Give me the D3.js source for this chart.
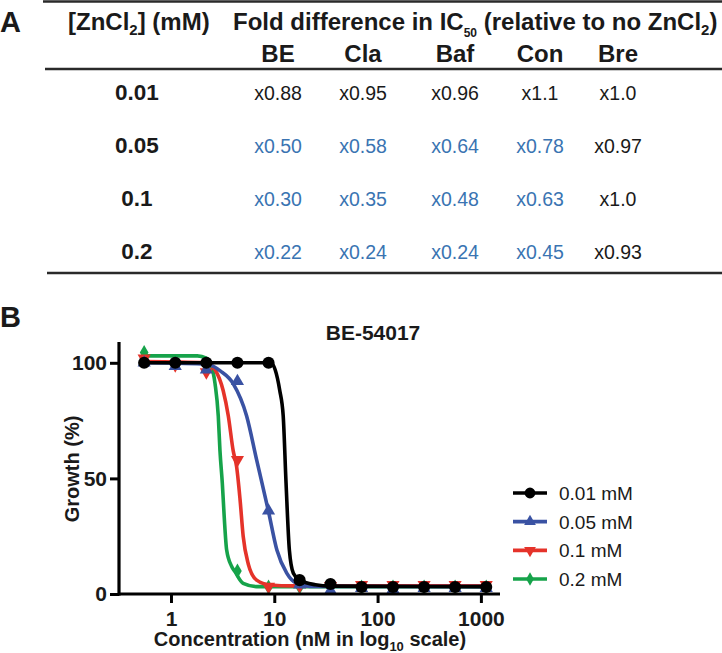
<!DOCTYPE html>
<html>
<head>
<meta charset="utf-8">
<script src="https://cdn.jsdelivr.net/npm/d3@7/dist/d3.min.js"></script>
<style>
  html, body { margin: 0; padding: 0; background: #fff; }
  svg { display: block; font-family: "Liberation Sans", Arial, sans-serif; }
</style>
</head>
<body>
<svg id="fig" width="722" height="653"></svg>
<script>
// ---------- Panel A data ----------
const zincLevels = ["0.01", "0.05", "0.1", "0.2"];
const compounds = ["BE", "Cla", "Baf", "Con", "Bre"];
const foldBE  = ["x0.88", "x0.50", "x0.30", "x0.22"];
const foldCla = ["x0.95", "x0.58", "x0.35", "x0.24"];
const foldBaf = ["x0.96", "x0.64", "x0.48", "x0.24"];
const foldCon = ["x1.1",  "x0.78", "x0.63", "x0.45"];
const foldBre = ["x1.0",  "x0.97", "x1.0",  "x0.93"];
// significant change (shown in blue)
const sigBE  = [false, true, true, true];
const sigCla = [false, true, true, true];
const sigBaf = [false, true, true, true];
const sigCon = [false, true, true, true];
const sigBre = [false, false, false, false];

// ---------- Panel B data ----------
const chartTitle = "BE-54017";
const seriesNames = ["0.01 mM", "0.05 mM", "0.1 mM", "0.2 mM"];
const concNM = [0.55, 1.1, 2.2, 4.4, 8.8, 17.6, 35, 70, 141, 282, 563, 1126];
const growth001 = [100, 100, 100, 100, 100, 6, 4.3, 3, 3, 3, 3, 3];
const growth005 = [100, 98.5, 97, 92, 36, 4, 1.5, 2.5, 2, 2.5, 2.5, 2.5];
const growth01  = [102, 99, 96, 58, 3.2, 3.5, 3.5, 4, 4, 4, 4, 4];
const growth02  = [104.5, 100, 99, 10, 3, 3, 3, 3, 3, 3, 3, 3];
// fitted curves as [concentration nM, growth %]
const fit001 = [[0.55,100],[8.8,100],[9.6,99.5],[10.2,97],[11.3,88],[12.2,77],[13.0,48],[14.0,19],[15.3,9],[17.6,6],[25,4],[35,3.4],[1126,3.2]];
const fit005 = [[0.55,100],[2.0,99.5],[2.4,99],[3.0,96.5],[4.0,91],[5.4,77],[6.75,58],[8.76,36],[10.6,19],[13.2,9],[16.4,4.6],[22,3.3],[1126,3.2]];
const fit01  = [[0.55,100.5],[2.2,100],[2.67,97],[3.2,88],[3.59,77],[4.0,62],[4.32,55],[4.66,41],[5.0,25],[5.6,13],[6.75,6],[9.1,3.9],[15,3.5],[1126,3.5]];
const fit02  = [[0.55,103],[1.8,103],[2.2,102],[2.45,99],[2.67,91],[2.87,77],[2.98,62],[3.14,48],[3.28,33],[3.46,19],[3.86,12],[4.16,9.7],[5.0,4.6],[6.75,3.2],[1126,3.2]];
const xTicks = [1, 10, 100, 1000];
const yTicks = [0, 50, 100];

// ---------- drawing ----------
const svg = d3.select("#fig");
svg.append("rect").attr("width", 722).attr("height", 653).attr("fill", "#fff");

const BOLD = "bold";
const tableBlue = "#3a74b2";
const ink = "#1a1a1a";

// Panel letters
svg.append("text").attr("x", 0).attr("y", 32).attr("font-size", 29).attr("font-weight", BOLD).attr("fill", ink).text("A");
svg.append("text").attr("x", 0).attr("y", 327).attr("font-size", 29).attr("font-weight", BOLD).attr("fill", ink).text("B");

// Table rules
const rules = [1.5, 69, 273];
const ruleStart = [43, 45, 47];
svg.selectAll("line.rule").data(rules).join("line")
  .attr("class", "rule")
  .attr("x1", (d, i) => ruleStart[i]).attr("x2", 722)
  .attr("y1", d => d).attr("y2", d => d)
  .attr("stroke", "#2a2a2a").attr("stroke-width", 2.6);

// Header
const h1 = svg.append("text").attr("x", 68).attr("y", 30).attr("font-size", 24).attr("font-weight", BOLD).attr("fill", ink);
h1.append("tspan").text("[ZnCl");
h1.append("tspan").attr("font-size", 15).attr("dy", 5).text("2");
h1.append("tspan").attr("dy", -5).text("] (mM)");

const h2 = svg.append("text").attr("x", 233).attr("y", 30).attr("font-size", 24).attr("font-weight", BOLD).attr("fill", ink);
h2.append("tspan").text("Fold difference in IC");
h2.append("tspan").attr("font-size", 12).attr("dy", 7).text("50");
h2.append("tspan").attr("dy", -7).text(" (relative to no ZnCl");
h2.append("tspan").attr("font-size", 15).attr("dy", 5).text("2");
h2.append("tspan").attr("dy", -5).text(")");

const colX = d3.scaleOrdinal().domain(compounds).range([278, 363, 455, 540, 618]);
const rowY = d3.scalePoint().domain(zincLevels).range([100, 259]);

svg.selectAll("text.colhead").data(compounds).join("text")
  .attr("class", "colhead")
  .attr("x", d => colX(d)).attr("y", 62)
  .attr("text-anchor", "middle").attr("font-size", 24).attr("font-weight", BOLD).attr("fill", ink)
  .text(d => d);

svg.selectAll("text.rowhead").data(zincLevels).join("text")
  .attr("class", "rowhead")
  .attr("x", 137).attr("y", d => rowY(d))
  .attr("text-anchor", "middle").attr("font-size", 22.5).attr("font-weight", BOLD).attr("fill", ink)
  .text(d => d);

const foldCols = [foldBE, foldCla, foldBaf, foldCon, foldBre];
const sigCols = [sigBE, sigCla, sigBaf, sigCon, sigBre];
const cells = [];
compounds.forEach((c, ci) => zincLevels.forEach((z, ri) => cells.push({c, z, v: foldCols[ci][ri], s: sigCols[ci][ri]})));
svg.selectAll("text.cell").data(cells).join("text")
  .attr("class", "cell")
  .attr("x", d => colX(d.c)).attr("y", d => rowY(d.z))
  .attr("text-anchor", "middle").attr("font-size", 19.5)
  .attr("fill", d => d.s ? tableBlue : ink)
  .text(d => d.v);

// ---------- Chart ----------
const x = d3.scaleLog().domain([0.314, 1531]).range([119, 500]);
const y = d3.scaleLinear().domain([0, 109]).range([594, 342]);

svg.append("text").attr("x", 373).attr("y", 340).attr("text-anchor", "middle")
  .attr("font-size", 21).attr("font-weight", BOLD).attr("fill", ink).text(chartTitle);

const colors = ["#000000", "#3a52a3", "#e5332a", "#16a34a"];
const fits = [fit001, fit005, fit01, fit02];
const vals = [growth001, growth005, growth01, growth02];
const shapes = [d3.symbolCircle, d3.symbolTriangle, d3.symbolTriangle, d3.symbolDiamond];
const sizes = [115, 75, 75, 65];
const rot = [0, 0, 180, 0];

const line = d3.line().x(d => x(d[0])).y(d => y(d[1])).curve(d3.curveMonotoneX);

const order = [3, 2, 1, 0];
order.forEach(i => {
  const g = svg.append("g");
  g.append("path").attr("d", line(fits[i])).attr("fill", "none")
    .attr("stroke", colors[i]).attr("stroke-width", 3.6).attr("stroke-linejoin", "round");
  g.selectAll("path.m").data(concNM.map((c, k) => [c, vals[i][k]])).join("path")
    .attr("class", "m")
    .attr("transform", d => `translate(${x(d[0])},${y(d[1])}) rotate(${rot[i]})`)
    .attr("d", d3.symbol().type(shapes[i]).size(sizes[i]))
    .attr("fill", colors[i]);
});

// Axes
const xAxis = d3.axisBottom(x).tickValues(xTicks).tickFormat(d3.format("d")).tickSize(9).tickSizeOuter(0);
const gx = svg.append("g").attr("transform", "translate(0,594)").call(xAxis);
gx.select(".domain").attr("d", `M${x.range()[0]},0H${x.range()[1]}`).attr("stroke", "#000").attr("stroke-width", 3.2);
gx.selectAll(".tick line").attr("stroke", "#000").attr("stroke-width", 3);
gx.selectAll(".tick text").attr("font-size", 21).attr("font-weight", BOLD).attr("fill", ink)
  .attr("font-family", "Liberation Sans, Arial, sans-serif").attr("dy", "0.95em");

const yAxis = d3.axisLeft(y).tickValues(yTicks).tickSize(9).tickSizeOuter(0);
const gy = svg.append("g").attr("transform", "translate(119,0)").call(yAxis);
gy.select(".domain").attr("d", `M0,${y.range()[1]}V${y.range()[0] + 1.6}`).attr("stroke", "#000").attr("stroke-width", 3.2);
gy.selectAll(".tick line").attr("stroke", "#000").attr("stroke-width", 3);
gy.selectAll(".tick text").attr("font-size", 21).attr("font-weight", BOLD).attr("fill", ink)
  .attr("font-family", "Liberation Sans, Arial, sans-serif").attr("x", -12);

// Axis titles
const xt = svg.append("text").attr("x", 310).attr("y", 646).attr("text-anchor", "middle")
  .attr("font-size", 20).attr("font-weight", BOLD).attr("fill", ink);
xt.append("tspan").text("Concentration (nM in log");
xt.append("tspan").attr("font-size", 13).attr("dy", 5).text("10");
xt.append("tspan").attr("dy", -5).text(" scale)");

svg.append("text").attr("transform", "translate(79,469) rotate(-90)").attr("text-anchor", "middle")
  .attr("font-size", 20).attr("font-weight", BOLD).attr("fill", ink).text("Growth (%)");

// Legend
const legY = d3.scalePoint().domain(seriesNames).range([493, 579]);
seriesNames.forEach((name, i) => {
  const ly = legY(name);
  svg.append("line").attr("x1", 513).attr("x2", 547).attr("y1", ly).attr("y2", ly)
    .attr("stroke", colors[i]).attr("stroke-width", 3.6);
  svg.append("path").attr("transform", `translate(530,${ly}) rotate(${rot[i]})`)
    .attr("d", d3.symbol().type(shapes[i]).size(sizes[i] * 0.8)).attr("fill", colors[i]);
  svg.append("text").attr("x", 559).attr("y", ly + 7).attr("font-size", 19).attr("fill", ink).text(name);
});
</script>
</body>
</html>
